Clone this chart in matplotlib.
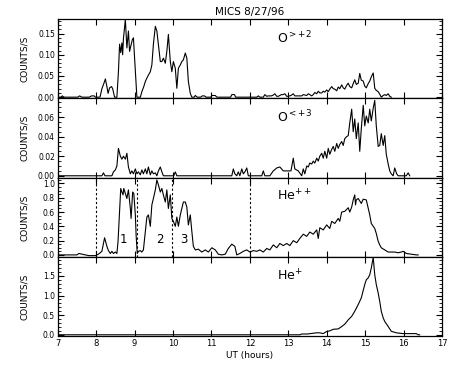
import matplotlib
matplotlib.use('Agg')
import matplotlib.pyplot as plt
from matplotlib.ticker import MultipleLocator, FormatStrFormatter

# ---- data (UT hours, counts/s) ----
t_o2 = [7.00, 7.08, 7.12, 7.16, 7.52, 7.57, 7.63, 7.82, 7.88, 7.95, 7.98, 8.10, 8.15, 8.20, 8.24, 8.28,
        8.31, 8.35, 8.40, 8.43, 8.48, 8.54, 8.58, 8.61, 8.64, 8.67, 8.69, 8.71, 8.76, 8.80, 8.84, 8.87,
        8.91, 8.94, 8.97, 9.00, 9.03, 9.06, 9.15, 9.19, 9.24, 9.28, 9.32, 9.36, 9.41, 9.45, 9.49, 9.54,
        9.58, 9.62, 9.67, 9.71, 9.75, 9.80, 9.84, 9.88, 9.93, 9.97, 10.01, 10.06, 10.10, 10.14, 10.19,
        10.23, 10.27, 10.32, 10.36, 10.40, 10.45, 10.49, 10.55, 10.58, 10.63, 10.72, 10.76, 10.82, 10.86,
        10.98, 11.02, 11.10, 11.14, 11.50, 11.53, 11.60, 11.63, 12.18, 12.22, 12.26, 12.35, 12.39, 12.44,
        12.48, 12.56, 12.61, 12.65, 12.70, 12.74, 12.82, 12.86, 12.91, 12.96, 13.00, 13.07, 13.13, 13.17,
        13.22, 13.35, 13.39, 13.48, 13.52, 13.56, 13.61, 13.65, 13.69, 13.74, 13.78, 13.82, 13.87, 13.91,
        13.95, 14.00, 14.04, 14.08, 14.13, 14.17, 14.21, 14.26, 14.30, 14.34, 14.39, 14.43, 14.47, 14.52,
        14.56, 14.60, 14.65, 14.69, 14.73, 14.77, 14.82, 14.86, 14.90, 14.95, 14.99, 15.03, 15.08, 15.12,
        15.16, 15.21, 15.25, 15.29, 15.34, 15.38, 15.42, 15.47, 15.51, 15.55, 15.60, 15.64, 15.68]
c_o2 = [0.000, 0.000, 0.003, 0.000, 0.000, 0.003, 0.000, 0.000, 0.003, 0.003, 0.000, 0.000, 0.020, 0.032,
        0.043, 0.025, 0.009, 0.022, 0.025, 0.020, 0.000, 0.000, 0.060, 0.125, 0.105, 0.128, 0.100, 0.138,
        0.183, 0.116, 0.156, 0.108, 0.124, 0.135, 0.140, 0.092, 0.040, 0.000, 0.000, 0.013, 0.025, 0.037,
        0.045, 0.052, 0.060, 0.076, 0.125, 0.167, 0.156, 0.124, 0.084, 0.084, 0.092, 0.080, 0.108, 0.148,
        0.084, 0.060, 0.084, 0.068, 0.021, 0.068, 0.076, 0.084, 0.088, 0.104, 0.092, 0.037, 0.009, 0.000,
        0.000, 0.004, 0.000, 0.000, 0.003, 0.003, 0.000, 0.000, 0.004, 0.004, 0.000, 0.000, 0.006, 0.006,
        0.000, 0.000, 0.003, 0.000, 0.000, 0.006, 0.002, 0.003, 0.003, 0.005, 0.008, 0.002, 0.002, 0.006,
        0.006, 0.008, 0.002, 0.002, 0.004, 0.008, 0.003, 0.003, 0.003, 0.006, 0.004, 0.008, 0.006, 0.003,
        0.006, 0.011, 0.008, 0.014, 0.010, 0.010, 0.014, 0.012, 0.017, 0.013, 0.019, 0.025, 0.020, 0.019,
        0.015, 0.024, 0.020, 0.029, 0.022, 0.019, 0.028, 0.033, 0.025, 0.022, 0.032, 0.041, 0.030, 0.033,
        0.056, 0.040, 0.038, 0.026, 0.022, 0.032, 0.038, 0.048, 0.057, 0.021, 0.016, 0.013, 0.007, 0.000,
        0.004, 0.006, 0.004, 0.008, 0.002, 0.000]

t_o3 = [7.00, 8.15, 8.19, 8.23, 8.41, 8.45, 8.50, 8.54, 8.58, 8.63, 8.67, 8.71, 8.76, 8.80, 8.84, 8.89,
        8.93, 8.97, 9.02, 9.06, 9.10, 9.15, 9.19, 9.23, 9.28, 9.32, 9.36, 9.41, 9.45, 9.49, 9.54, 9.58,
        9.62, 9.67, 9.71, 9.75, 10.02, 10.06, 10.10, 11.53, 11.57, 11.61, 11.66, 11.70, 11.74, 11.79,
        11.83, 11.87, 11.92, 11.96, 12.31, 12.35, 12.39, 12.52, 12.61, 12.70, 12.78, 12.87, 13.00, 13.07,
        13.13, 13.17, 13.26, 13.35, 13.39, 13.43, 13.48, 13.52, 13.56, 13.61, 13.65, 13.69, 13.74, 13.78,
        13.82, 13.87, 13.91, 13.95, 14.00, 14.04, 14.08, 14.13, 14.17, 14.21, 14.26, 14.30, 14.34, 14.39,
        14.43, 14.47, 14.52, 14.56, 14.60, 14.65, 14.69, 14.73, 14.77, 14.82, 14.86, 14.90, 14.95, 14.99,
        15.03, 15.08, 15.12, 15.16, 15.21, 15.25, 15.29, 15.34, 15.38, 15.42, 15.47, 15.51, 15.55, 15.60,
        15.64, 15.68, 15.73, 15.77, 15.82, 15.86, 16.07, 16.12, 16.16]
c_o3 = [0.000, 0.000, 0.003, 0.000, 0.000, 0.004, 0.006, 0.010, 0.028, 0.020, 0.017, 0.020, 0.017, 0.023,
        0.009, 0.002, 0.005, 0.002, 0.007, 0.002, 0.004, 0.001, 0.006, 0.002, 0.007, 0.002, 0.009, 0.001,
        0.005, 0.002, 0.003, 0.000, 0.005, 0.009, 0.004, 0.000, 0.000, 0.004, 0.000, 0.000, 0.007, 0.002,
        0.000, 0.004, 0.000, 0.007, 0.002, 0.004, 0.008, 0.000, 0.000, 0.005, 0.000, 0.000, 0.005, 0.008,
        0.009, 0.005, 0.005, 0.005, 0.018, 0.007, 0.005, 0.000, 0.007, 0.002, 0.010, 0.009, 0.013, 0.012,
        0.015, 0.013, 0.018, 0.015, 0.020, 0.023, 0.018, 0.025, 0.018, 0.028, 0.022, 0.027, 0.030, 0.025,
        0.033, 0.028, 0.032, 0.035, 0.031, 0.038, 0.040, 0.041, 0.054, 0.068, 0.045, 0.058, 0.038, 0.054,
        0.025, 0.048, 0.072, 0.051, 0.061, 0.054, 0.068, 0.056, 0.069, 0.077, 0.051, 0.030, 0.031, 0.043,
        0.031, 0.041, 0.022, 0.012, 0.005, 0.002, 0.000, 0.008, 0.002, 0.000, 0.000, 0.003, 0.000]

t_he2 = [7.00, 7.50, 7.55, 7.63, 7.72, 7.81, 7.98, 8.02, 8.06, 8.15, 8.22, 8.28, 8.32, 8.37, 8.41, 8.45,
         8.50, 8.54, 8.57, 8.60, 8.64, 8.67, 8.70, 8.72, 8.76, 8.80, 8.84, 8.89, 8.91, 8.95, 8.98, 9.02,
         9.04, 9.07, 9.10, 9.15, 9.19, 9.23, 9.28, 9.32, 9.36, 9.41, 9.45, 9.49, 9.54, 9.58, 9.62, 9.67,
         9.71, 9.75, 9.80, 9.84, 9.88, 9.93, 9.97, 10.01, 10.06, 10.10, 10.14, 10.19, 10.23, 10.27, 10.32,
         10.36, 10.40, 10.45, 10.49, 10.53, 10.58, 10.66, 10.75, 10.84, 10.92, 11.01, 11.10, 11.18, 11.27,
         11.36, 11.44, 11.53, 11.61, 11.66, 11.74, 11.83, 11.92, 12.00, 12.09, 12.18, 12.26, 12.35, 12.44,
         12.52, 12.61, 12.70, 12.78, 12.87, 12.96, 13.04, 13.13, 13.22, 13.30, 13.39, 13.48, 13.56, 13.65,
         13.74, 13.78, 13.82, 13.91, 14.00, 14.08, 14.13, 14.21, 14.30, 14.34, 14.39, 14.47, 14.56, 14.60,
         14.65, 14.69, 14.73, 14.75, 14.77, 14.82, 14.90, 14.95, 15.03, 15.08, 15.12, 15.16, 15.21, 15.25,
         15.29, 15.34, 15.38, 15.42, 15.51, 15.60, 15.68, 15.77, 15.86, 15.94, 15.99, 16.07, 16.20, 16.33,
         16.38]
c_he2 = [0.00, 0.00, 0.02, 0.01, 0.00, -0.01, -0.01, 0.00, 0.01, 0.05, 0.24, 0.12, 0.06, 0.02, 0.05, 0.02,
         0.04, 0.02, 0.19, 0.51, 0.93, 0.88, 0.84, 0.93, 0.86, 0.79, 0.91, 0.65, 0.51, 0.88, 0.86, 0.56,
         0.28, 0.02, 0.05, 0.06, 0.04, 0.07, 0.33, 0.53, 0.56, 0.40, 0.70, 0.79, 0.91, 1.05, 0.98, 0.88,
         0.93, 0.84, 0.74, 0.91, 0.65, 0.84, 0.51, 0.47, 0.40, 0.53, 0.40, 0.56, 0.65, 0.74, 0.74, 0.67,
         0.42, 0.56, 0.33, 0.12, 0.07, 0.08, 0.04, 0.07, 0.04, 0.10, 0.07, 0.01, 0.00, 0.01, 0.09, 0.15,
         0.12, 0.00, 0.02, 0.05, 0.07, 0.04, 0.06, 0.05, 0.07, 0.04, 0.09, 0.07, 0.14, 0.10, 0.16, 0.13,
         0.16, 0.13, 0.20, 0.17, 0.23, 0.29, 0.26, 0.32, 0.29, 0.35, 0.23, 0.38, 0.35, 0.42, 0.37, 0.47,
         0.44, 0.51, 0.47, 0.60, 0.61, 0.66, 0.60, 0.67, 0.77, 0.84, 0.70, 0.77, 0.79, 0.72, 0.78, 0.77,
         0.65, 0.56, 0.44, 0.40, 0.37, 0.30, 0.19, 0.14, 0.10, 0.07, 0.04, 0.04, 0.04, 0.03, 0.04, 0.05,
         0.02, 0.01, 0.00, 0.00]

t_he1 = [7.00, 13.30, 13.35, 13.50, 13.65, 13.74, 13.82, 13.91, 13.99, 14.08, 14.17, 14.30, 14.39, 14.47,
         14.56, 14.65, 14.73, 14.82, 14.90, 14.99, 15.03, 15.08, 15.12, 15.16, 15.21, 15.25, 15.29, 15.34,
         15.38, 15.42, 15.47, 15.51, 15.60, 15.68, 15.81, 15.99, 16.16, 16.33, 16.38, 16.42]
c_he1 = [0.00, 0.00, 0.02, 0.02, 0.04, 0.05, 0.05, 0.03, 0.08, 0.10, 0.14, 0.15, 0.21, 0.27, 0.38, 0.47,
         0.60, 0.77, 0.94, 1.28, 1.40, 1.45, 1.53, 1.70, 1.97, 1.53, 1.28, 1.06, 0.85, 0.60, 0.43, 0.34,
         0.21, 0.09, 0.05, 0.03, 0.03, 0.03, 0.00, 0.00]

species = [r'O$^{>+2}$', r'O$^{<+3}$', r'He$^{++}$', r'He$^{+}$']
boundaries = [8.0, 9.07, 9.98, 12.0]
interval_labels = ['1', '2', '3']
interval_pos = [8.71, 9.67, 10.27]

#############################################################################################################

fig, axes = plt.subplots(4, 1, sharex=True, figsize=(4.53, 3.68), dpi=100)
fig.subplots_adjust(left=0.1274, right=0.9757, top=0.948, bottom=0.086, hspace=0)

series = [(t_o2, c_o2), (t_o3, c_o3), (t_he2, c_he2), (t_he1, c_he1)]
ylims = [(-0.003, 0.184), (-0.002, 0.079), (-0.03, 1.08), (-0.04, 1.98)]
majors = [0.05, 0.02, 0.2, 0.5]
minors = [0.01, 0.005, 0.05, 0.1]
fmts = ['%.2f', '%.2f', '%.1f', '%.1f']

for ax, (t, c), yl, mj, mn, fm, name in zip(axes, series, ylims, majors, minors, fmts, species):
    ax.plot(t, c, color='black', lw=0.8)
    ax.set_xlim(7, 17)
    ax.set_ylim(*yl)
    ax.yaxis.set_major_locator(MultipleLocator(mj))
    ax.yaxis.set_minor_locator(MultipleLocator(mn))
    ax.yaxis.set_major_formatter(FormatStrFormatter(fm))
    ax.xaxis.set_major_locator(MultipleLocator(1))
    ax.tick_params(direction='in', top=True, right=True, labelsize=5.5, length=4, width=0.8, pad=2)
    ax.tick_params(axis='x', labelsize=6)
    ax.tick_params(which='minor', direction='in', right=True, length=2, width=0.6)
    ax.set_ylabel('COUNTS/S', fontsize=6.5)
    ax.yaxis.set_label_coords(-0.075, 0.5)
    for s in ax.spines.values():
        s.set_linewidth(0.9)
    ax.text(0.57, 0.765, name, transform=ax.transAxes, fontsize=9, va='center', ha='left')

# dotted interval markers on the He++ panel
for b in boundaries:
    axes[2].axvline(b, color='black', lw=0.8, linestyle=(0, (2, 2)))
for lab, x in zip(interval_labels, interval_pos):
    axes[2].text(x, 0.22, lab, fontsize=8.5, ha='center', va='center')

axes[0].set_title('MICS 8/27/96', fontsize=7.5, pad=3)
axes[3].set_xlabel('UT (hours)', fontsize=6.5, labelpad=2)

plt.savefig('out.png', dpi=100)
